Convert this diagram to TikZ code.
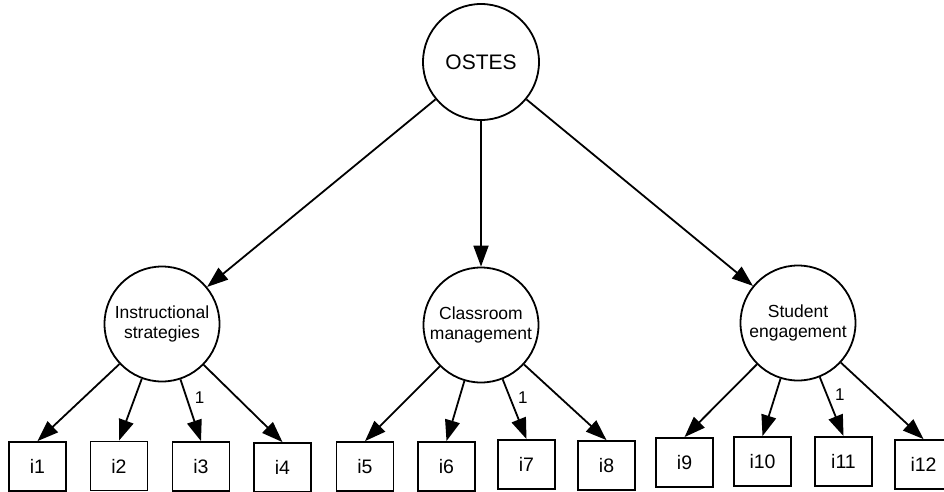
\documentclass[tikz,border=0pt]{standalone}
\usepackage{fontspec}
\setmainfont{Liberation Sans}
\usetikzlibrary{arrows.meta}
\begin{document}
\begin{tikzpicture}[x=1pt,y=-1pt,
  lat/.style={circle,draw,line width=1.8pt,minimum size=115pt,inner sep=0pt,align=center,font=\fontsize{17.5}{19.5}\selectfont},
  obs/.style={rectangle,draw,line width=1.8pt,minimum width=57pt,minimum height=49pt,inner sep=0pt,font=\fontsize{19.5}{21}\selectfont},
  path/.style={line width=1.8pt,-{Triangle[length=21pt,width=15pt]}},
  fix/.style={font=\fontsize{17}{19}\selectfont,right=4pt,pos=0.3}]
\useasboundingbox (0,0) rectangle (944,492);
\node[lat,minimum size=116pt,font=\fontsize{21}{23}\selectfont] (ostes) at (481,62) {OSTES};
\node[lat] (is) at (162,324) {Instructional\\strategies};
\node[lat] (cm) at (481,325) {Classroom\\management};
\node[lat] (se) at (798,323) {Student\\engagement};
\node[obs] (i1) at (37.5,466.5) {i1};
\node[obs] (i2) at (119,466) {i2};
\node[obs] (i3) at (201,466.5) {i3};
\node[obs] (i4) at (282.5,467.5) {i4};
\node[obs] (i5) at (365,466.5) {i5};
\node[obs] (i6) at (446.5,466.5) {i6};
\node[obs] (i7) at (526.5,464.5) {i7};
\node[obs] (i8) at (606.5,465.5) {i8};
\node[obs] (i9) at (684.5,462.5) {i9};
\node[obs] (i10) at (762.5,461.5) {i10};
\node[obs] (i11) at (843.5,461.5) {i11};
\node[obs] (i12) at (923.5,464.5) {i12};
\draw[path] (ostes) -- (is);
\draw[path] (ostes) -- (cm);
\draw[path] (ostes) -- (se);
\draw[path] (is) -- (i1.north);
\draw[path] (is) -- (i2.north);
\draw[path] (is) -- node[fix] {1} (i3.north);
\draw[path] (is) -- (i4.north);
\draw[path] (cm) -- (i5.north);
\draw[path] (cm) -- (i6.north);
\draw[path] (cm) -- node[fix] {1} (i7.north);
\draw[path] (cm) -- (i8.north);
\draw[path] (se) -- (i9.north);
\draw[path] (se) -- (i10.north);
\draw[path] (se) -- node[fix] {1} (i11.north);
\draw[path] (se) -- (i12.north);
\end{tikzpicture}
\end{document}
